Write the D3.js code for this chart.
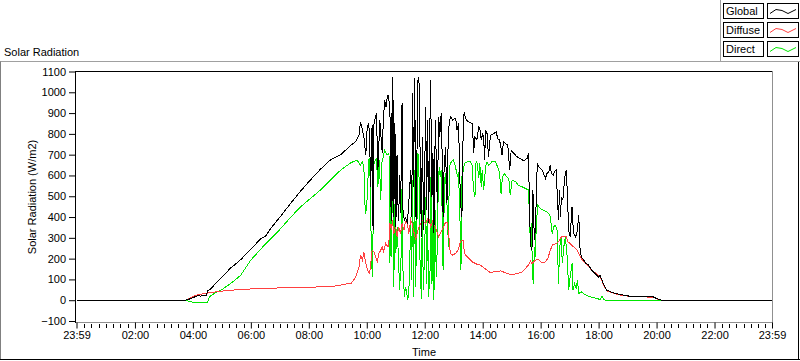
<!DOCTYPE html>
<html><head><meta charset="utf-8">
<script src="https://cdn.jsdelivr.net/npm/d3@7"></script>
<style>
html,body{margin:0;padding:0;background:#fff;}
svg{display:block;}
text{font-family:"Liberation Sans",Arial,sans-serif;font-size:11px;fill:#000;}
</style></head>
<body>
<svg id="chart" width="800" height="361"></svg>
<script>
// ---- data (minute of day, W/m2) ----
const seriesNames = ["Global", "Diffuse", "Direct"];
const seriesColors = ["#000000", "#ff4040", "#00e600"];
const yTickValues = [-100,0,100,200,300,400,500,600,700,800,900,1000,1100];
const xTickValues = [-1,120,240,360,480,600,720,840,960,1080,1200,1320,1439];
const xTickLabels = ["23:59","02:00","04:00","06:00","08:00","10:00","12:00","14:00","16:00","18:00","20:00","22:00","23:59"];

const globalData = [[0,0],[225,0],[236,8],[246,18],[252,22],[256,20],[263,22],[267,20],[271,45],[277,55],[287,80],[298,105],[308,130],[318,155],[329,175],[339,195],[360,245],[380,295],[391,310],[401,345],[422,405],[442,465],[463,525],[484,580],[504,630],[525,675],[546,700],[567,745],[577,762],[584,794],[587,858],[591,818],[594,786],[598,698],[601,834],[604,852],[606,770],[608,545],[611,842],[613,337],[615,850],[620,900],[623,626],[627,866],[632,707],[634,850],[637,963],[640,930],[642,972],[644,987],[648,930],[649,450],[651,900],[652,380],[654,1075],[656,401],[657,850],[659,350],[660,800],[662,400],[663,700],[664,497],[666,380],[668,600],[670,418],[673,948],[675,433],[678,380],[680,401],[684,369],[687,466],[691,626],[693,401],[695,995],[697,545],[699,1067],[702,385],[706,1059],[708,1075],[711,626],[713,305],[715,786],[718,337],[722,930],[724,433],[726,866],[728,369],[732,1059],[735,497],[737,707],[739,321],[742,866],[746,466],[749,883],[751,786],[754,899],[756,707],[758,401],[760,626],[763,738],[766,466],[769,818],[773,883],[778,866],[784,876],[787,818],[790,851],[794,466],[797,401],[800,883],[802,899],[806,866],[811,858],[816,851],[819,851],[821,707],[824,786],[828,770],[832,834],[834,826],[837,770],[840,802],[842,786],[844,674],[846,818],[849,802],[852,690],[855,770],[857,794],[863,802],[868,810],[871,778],[875,770],[878,730],[880,698],[883,762],[887,754],[892,746],[896,626],[899,722],[904,707],[911,690],[917,682],[925,670],[932,682],[935,706],[937,401],[940,257],[942,241],[944,530],[947,289],[949,337],[953,658],[956,642],[959,634],[963,626],[966,610],[970,586],[973,610],[977,618],[980,650],[982,610],[986,602],[989,618],[992,626],[995,482],[997,385],[999,530],[1001,401],[1003,497],[1006,482],[1010,594],[1013,626],[1015,530],[1018,337],[1021,305],[1025,449],[1028,321],[1032,305],[1035,321],[1039,409],[1041,257],[1044,209],[1049,193],[1054,177],[1059,169],[1066,144],[1073,128],[1080,112],[1083,118],[1090,80],[1097,48],[1111,35],[1125,27],[1145,19],[1166,19],[1193,16],[1203,5],[1211,0],[1439,0]];

const diffuseData = [[0,0],[225,0],[236,13],[246,24],[263,32],[277,37],[298,43],[318,48],[360,54],[401,58],[456,61],[504,64],[539,69],[553,77],[567,80],[570,88],[577,112],[584,160],[587,217],[591,193],[594,233],[598,177],[602,144],[606,128],[609,193],[611,241],[615,233],[618,209],[622,185],[625,225],[629,241],[632,257],[635,233],[639,273],[644,257],[646,289],[648,369],[651,337],[653,385],[656,321],[660,353],[663,305],[666,353],[670,321],[673,369],[677,337],[680,377],[684,369],[687,321],[691,385],[694,369],[701,289],[708,353],[715,385],[722,369],[728,401],[732,353],[737,385],[742,353],[749,305],[756,337],[762,369],[766,377],[770,305],[773,225],[777,217],[784,225],[789,241],[794,281],[797,289],[800,289],[802,225],[808,209],[818,185],[828,173],[835,169],[842,157],[849,144],[856,133],[863,136],[870,136],[877,141],[883,136],[890,128],[897,125],[904,125],[911,128],[922,136],[928,152],[935,169],[939,189],[942,177],[949,193],[956,196],[963,180],[970,185],[975,201],[979,233],[984,265],[990,270],[997,281],[1003,305],[1008,308],[1013,305],[1016,281],[1021,273],[1028,257],[1035,244],[1042,209],[1049,185],[1056,169],[1066,144],[1077,125],[1083,112],[1090,75],[1097,45],[1111,33],[1125,25],[1145,18],[1166,17],[1193,14],[1203,5],[1211,0],[1439,0]];

const directData = [[0,0],[225,0],[236,-8],[256,-13],[270,-13],[274,16],[284,32],[298,48],[318,80],[339,120],[360,193],[380,245],[401,295],[422,345],[442,398],[463,449],[504,530],[546,626],[567,661],[580,674],[587,650],[591,666],[594,642],[596,465],[598,417],[601,497],[604,674],[606,682],[608,433],[610,177],[612,112],[613,337],[615,658],[620,682],[623,545],[626,674],[629,481],[631,658],[634,690],[637,722],[642,698],[646,706],[648,177],[649,465],[651,209],[654,706],[656,64],[658,465],[660,225],[663,353],[666,177],[668,48],[671,209],[673,545],[675,144],[678,16],[680,64],[682,48],[685,0],[688,80],[691,401],[693,96],[695,578],[697,16],[699,626],[701,64],[704,385],[706,706],[708,626],[710,209],[713,8],[715,433],[717,48],[720,241],[722,497],[724,80],[726,385],[728,16],[731,144],[733,594],[735,80],[737,385],[739,0],[741,465],[744,112],[746,257],[748,545],[750,642],[752,594],[754,626],[756,433],[758,144],[761,578],[763,610],[766,465],[769,257],[771,642],[775,666],[779,674],[782,658],[785,626],[788,594],[790,618],[793,385],[795,144],[797,594],[800,626],[802,658],[808,666],[815,666],[818,650],[821,530],[824,497],[826,658],[828,666],[832,586],[834,658],[837,545],[839,626],[842,530],[846,642],[849,666],[852,650],[856,658],[859,666],[866,666],[871,642],[875,610],[878,513],[881,594],[885,610],[889,594],[894,586],[897,505],[901,578],[908,570],[914,553],[922,545],[928,538],[935,530],[937,385],[939,257],[941,369],[943,128],[945,80],[947,257],[949,209],[951,369],[954,457],[959,441],[966,433],[972,425],[977,417],[980,401],[984,321],[987,353],[990,361],[994,337],[997,80],[999,241],[1002,305],[1005,177],[1008,257],[1011,305],[1015,209],[1018,48],[1021,112],[1025,177],[1027,48],[1030,80],[1034,56],[1036,96],[1039,32],[1044,40],[1049,32],[1054,24],[1063,16],[1070,13],[1077,8],[1083,3],[1087,19],[1090,5],[1094,0],[1439,0]];

// ---- layout ----
const svg = d3.select("#chart");
const plot = {left: 75, top: 71, right: 772, bottom: 322};

const x = d3.scaleLinear().domain([-1, 1439]).range([76.5, 772]);
const y = d3.scaleLinear().domain([-100, 1100]).range([321, 71.5]);

// outer panel frame
svg.append("line").attr("x1",0).attr("x2",721).attr("y1",61.5).attr("y2",61.5).attr("stroke","#a0a0a0");
svg.append("line").attr("x1",0.5).attr("x2",0.5).attr("y1",61.5).attr("y2",360).attr("stroke","#808080");
svg.append("line").attr("x1",0).attr("x2",800).attr("y1",359.5).attr("y2",359.5).attr("stroke","#000");
svg.append("line").attr("x1",798.5).attr("x2",798.5).attr("y1",61.5).attr("y2",360).attr("stroke","#000");
// legend panel edges
svg.append("line").attr("x1",720.5).attr("x2",720.5).attr("y1",0).attr("y2",62).attr("stroke","#a0a0a0");
svg.append("line").attr("x1",720.5).attr("x2",800).attr("y1",61.5).attr("y2",61.5).attr("stroke","#a0a0a0");

// title
svg.append("text").attr("x",4).attr("y",56).text("Solar Radiation");

// plot box
svg.append("line").attr("x1",plot.left+0.5).attr("x2",plot.right).attr("y1",plot.top+0.5).attr("y2",plot.top+0.5).attr("stroke","#000");
svg.append("line").attr("x1",plot.left+0.5).attr("x2",plot.left+0.5).attr("y1",plot.top).attr("y2",plot.bottom+1).attr("stroke","#000");
svg.append("line").attr("x1",plot.right+0.5).attr("x2",plot.right+0.5).attr("y1",plot.top).attr("y2",plot.bottom+1).attr("stroke","#909090");
svg.append("line").attr("x1",plot.left+1).attr("x2",plot.right+1).attr("y1",plot.bottom+0.5).attr("y2",plot.bottom+0.5).attr("stroke","#909090");

// y axis
const yAxis = d3.axisLeft(y).tickValues(yTickValues).tickSize(6).tickPadding(3).tickFormat(d3.format("d"));
const gy = svg.append("g").attr("transform",`translate(${plot.left},0)`).call(yAxis);
gy.select(".domain").remove();
gy.selectAll("text").style("font-family",'"Liberation Sans",Arial,sans-serif').style("font-size","11px").attr("fill","#000");

// x axis
const xAxis = d3.axisBottom(x).tickValues(xTickValues).tickSize(6).tickPadding(3).tickFormat((d,i)=>xTickLabels[i]);
const gx = svg.append("g").attr("transform",`translate(0,${plot.bottom+0.5})`).call(xAxis);
gx.select(".domain").remove();
gx.selectAll("text").style("font-family",'"Liberation Sans",Arial,sans-serif').style("font-size","11px").attr("fill","#000");
// minor x ticks every 15 minutes
const minor = d3.range(15, 1440, 15).filter(m => m % 120 !== 0);
svg.append("g").selectAll("line").data(minor).join("line")
  .attr("x1", d => Math.round(x(d)) + 0.5).attr("x2", d => Math.round(x(d)) + 0.5)
  .attr("y1", plot.bottom + 2).attr("y2", plot.bottom + 6).attr("stroke","#000");

// axis titles
svg.append("text").attr("transform","translate(36,197) rotate(-90)").attr("text-anchor","middle").text("Solar Radiation (W/m2)");
svg.append("text").attr("x",424).attr("y",356).attr("text-anchor","middle").text("Time");

// series: drawn Direct first, Global last (on top)
const line = d3.line().x(d => x(d[0])).y(d => y(d[1]));
const allData = [globalData, diffuseData, directData];
const order = [2, 1, 0];
svg.append("g").selectAll("path").data(order).join("path")
  .attr("d", i => line(allData[i])).attr("fill","none")
  .attr("stroke", i => seriesColors[i]).attr("stroke-width",1)
  .attr("shape-rendering","crispEdges");

// legend
const lg = svg.append("g");
seriesNames.forEach((name,i) => {
  const y0 = 3.5 + i*19;
  lg.append("rect").attr("x",723.5).attr("y",y0).attr("width",40).attr("height",15).attr("fill","#fff").attr("stroke","#000");
  lg.append("text").attr("x",726).attr("y",y0+11.5).text(name);
  lg.append("rect").attr("x",767.5).attr("y",y0).attr("width",31).attr("height",15).attr("fill","#fff").attr("stroke","#000");
  const pts = [[770,y0+10],[776,y0+6],[782,y0+7],[788,y0+10],[796,y0+6]];
  lg.append("polyline").attr("points", pts.map(p=>p.join(",")).join(" "))
    .attr("fill","none").attr("stroke",seriesColors[i]).attr("stroke-width",1);
});
</script>
</body></html>
